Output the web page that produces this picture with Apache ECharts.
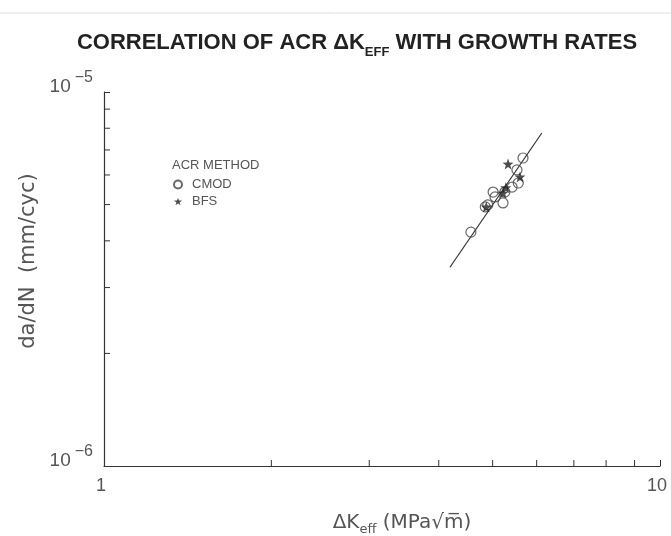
<!DOCTYPE html>
<html>
<head>
<meta charset="utf-8">
<script src="https://cdn.jsdelivr.net/npm/echarts@6/dist/echarts.min.js"></script>
<style>
html,body{margin:0;padding:0;background:#fff;}
#chart{width:671px;height:536px;}
</style>
</head>
<body>
<div id="chart"></div>
<script>
// ---- data ----
const cmodX = [4.57, 4.85, 4.90, 5.01, 5.05, 5.22, 5.26, 5.42, 5.56, 5.53, 5.67];
const cmodY = [4.22e-6, 4.93e-6, 4.99e-6, 5.40e-6, 5.24e-6, 5.05e-6, 5.40e-6, 5.57e-6, 5.71e-6, 6.19e-6, 6.66e-6];
const bfsX = [4.87, 5.22, 5.33, 5.60, 5.28];
const bfsY = [4.93e-6, 5.37e-6, 6.42e-6, 5.93e-6, 5.55e-6];
const fitX = [4.19, 6.13];
const fitY = [3.40e-6, 7.77e-6];
const xMinorTicks = [2, 3, 4, 5, 6, 7, 8, 9];
const yMinorTicks = [2e-6, 3e-6, 4e-6, 5e-6, 6e-6, 7e-6, 8e-6, 9e-6];
const xRange = [1, 10];
const yRange = [1e-6, 1e-5];

const zip = (a, b) => a.map((v, i) => [v, b[i]]);
const STAR = 'path://M0,-10L2.35,-3.24L9.51,-3.09L3.8,1.24L5.88,8.09L0,4L-5.88,8.09L-3.8,1.24L-9.51,-3.09L-2.35,-3.24Z';
const ink = '#333';
const txt = '#555';
const FONT = 'Liberation Sans, Arial, sans-serif';
const WIDE = 'DejaVu Sans, sans-serif';

const chart = echarts.init(document.getElementById('chart'), null, {renderer: 'canvas'});

const option = {
  backgroundColor: '#fff',
  animation: false,
  title: {
    text: '{t|CORRELATION OF ACR ΔK}{s|EFF}{t| WITH GROWTH RATES}',
    left: 352, top: 21, textAlign: 'center',
    textStyle: {
      rich: {
        t: {fontFamily: FONT, fontWeight: 'bold', fontSize: 22, color: '#222', lineHeight: 28, verticalAlign: 'bottom'},
        s: {fontFamily: FONT, fontWeight: 'bold', fontSize: 13, color: '#222', lineHeight: 28, verticalAlign: 'bottom', padding: [0, 0, -5, 0]}
      }
    }
  },
  grid: {left: 104, right: 11, top: 92, bottom: 70, containLabel: false, outerBoundsMode: 'none'},
  legend: {
    orient: 'vertical', left: 173, top: 178, itemWidth: 8, itemHeight: 8, itemGap: 4, padding: 0,
    data: ['CMOD', 'BFS'],
    textStyle: {fontFamily: FONT, fontSize: 13, color: txt, padding: [0, 0, 0, 5]}
  },
  graphic: [
    {type: 'text', left: 172, top: 159, style: {text: 'ACR METHOD', fontFamily: FONT, fontSize: 13, fill: txt}},
    {type: 'line', shape: {x1: 0, y1: 13, x2: 671, y2: 13}, style: {stroke: '#ddd', lineWidth: 1}},
    {type: 'text', x: 29, y: 261, rotation: Math.PI / 2,
      style: {text: 'da/dN  (mm/cyc)', fontFamily: WIDE, fontSize: 21, fill: txt, align: 'center', verticalAlign: 'middle'}}
  ],
  xAxis: {
    type: 'log', logBase: 10, min: xRange[0], max: xRange[1],
    name: '{a|ΔK}{s|eff}{a| (MPa√m̅)}', nameLocation: 'middle', nameGap: 42,
    nameTextStyle: {
      padding: [0, 0, 0, 40],
      rich: {
        a: {fontFamily: WIDE, fontSize: 20, color: txt, lineHeight: 25, verticalAlign: 'bottom'},
        s: {fontFamily: WIDE, fontSize: 13, color: txt, lineHeight: 25, verticalAlign: 'bottom', padding: [0, 0, -3, 0]}
      }
    },
    axisLine: {show: true, lineStyle: {color: ink, width: 1.2}},
    axisTick: {show: true, inside: true, length: 6, lineStyle: {color: ink}},
    splitLine: {show: false},
    axisLabel: {fontFamily: FONT, fontSize: 18, color: txt, margin: 11, padding: [0, 6, 0, 0],
      formatter: v => String(Math.round(v))}
  },
  yAxis: {
    type: 'log', logBase: 10, min: yRange[0], max: yRange[1],
    name: '',
    axisLine: {show: true, lineStyle: {color: ink, width: 1.2}},
    axisTick: {show: true, inside: true, length: 6, lineStyle: {color: ink}},
    splitLine: {show: false},
    axisLabel: {
      margin: 11,
      padding: [0, 0, 18, 0],
      formatter: v => '{b|10}{e|−' + Math.abs(Math.round(Math.log10(v))) + '}',
      rich: {
        b: {fontFamily: FONT, fontSize: 19, color: txt, lineHeight: 26, verticalAlign: 'bottom'},
        e: {fontFamily: FONT, fontSize: 16, color: txt, lineHeight: 26, verticalAlign: 'top', padding: [0, 0, 0, 4]}
      }
    }
  },
  series: [
    {
      name: 'fit', type: 'line', data: zip(fitX, fitY), symbol: 'none',
      lineStyle: {color: ink, width: 1.2}, silent: true, z: 1
    },
    {
      name: 'CMOD', type: 'scatter', data: zip(cmodX, cmodY), symbol: 'circle', symbolSize: 10,
      itemStyle: {color: 'rgba(0,0,0,0)', borderColor: '#444', borderWidth: 1.2}, z: 3
    },
    {
      name: 'BFS', type: 'scatter', data: zip(bfsX, bfsY), symbol: STAR, symbolSize: 11,
      itemStyle: {color: '#222'}, z: 4
    },
    {
      name: 'xminor', type: 'custom', silent: true, z: 2,
      data: xMinorTicks.map(v => [v]),
      renderItem: (params, api) => {
        const p = api.coord([api.value(0), yRange[0]]);
        return {type: 'line', shape: {x1: p[0], y1: p[1], x2: p[0], y2: p[1] - 6}, style: {stroke: ink, lineWidth: 1}};
      }
    },
    {
      name: 'yminor', type: 'custom', silent: true, z: 2,
      data: yMinorTicks.map(v => [xRange[0], v]),
      renderItem: (params, api) => {
        const p = api.coord([xRange[0], api.value(1)]);
        return {type: 'line', shape: {x1: p[0], y1: p[1], x2: p[0] + 6, y2: p[1]}, style: {stroke: ink, lineWidth: 1}};
      },
      encode: {x: 0, y: 1}
    }
  ]
};
chart.setOption(option);
</script>
</body>
</html>
